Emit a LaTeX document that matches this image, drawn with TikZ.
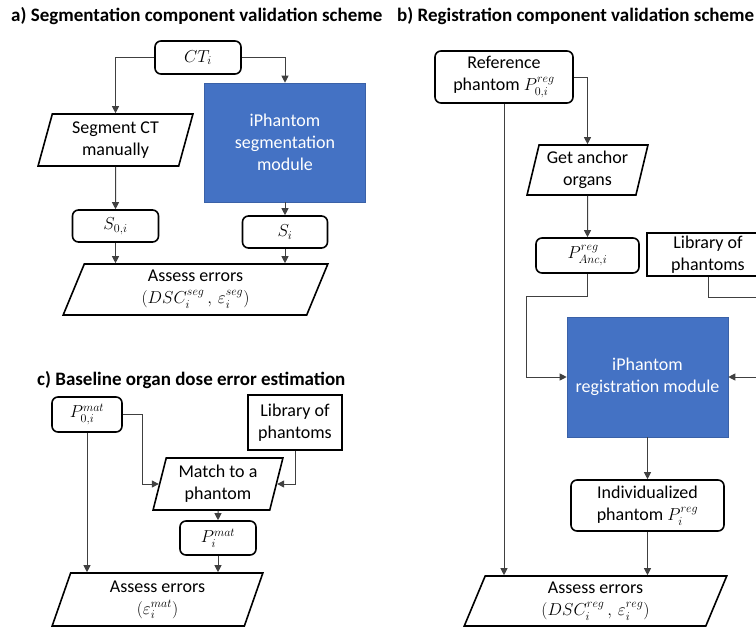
\documentclass[tikz,border=0pt]{standalone}
\usepackage{amsmath}
\usepackage{fontspec}
\setmainfont{Carlito}
\usepackage{tikz}
\usetikzlibrary{shapes.geometric, arrows.meta}
\definecolor{phantomblue}{RGB}{68,114,196}

\begin{document}
\begin{tikzpicture}[
    x=1pt, y=-1pt,
    every node/.style={font=\fontsize{18}{22}\selectfont},
    box/.style={rectangle, draw, line width=1.6pt, rounded corners=6pt, align=center, inner sep=0pt},
    libbox/.style={rectangle, draw, line width=1.6pt, align=center, inner sep=0pt},
    para/.style={trapezium, trapezium left angle=75, trapezium right angle=105, trapezium stretches=true, draw, line width=1.6pt, align=center, inner sep=0pt},
    module/.style={rectangle, fill=phantomblue, draw=phantomblue!85!black, line width=0.6pt, text=white, align=center, inner sep=0pt},
    title/.style={anchor=west, inner sep=0pt, font=\bfseries\fontsize{19}{22}\selectfont},
    arrow/.style={-{Triangle[length=7pt, width=7pt]}, line width=1pt, draw=black!75}
]
\useasboundingbox (0,0) rectangle (756,627);

\node[title] (titlea) at (11,16) {a) Segmentation component validation scheme};
\node[title] (titleb) at (397,16) {b) Registration component validation scheme};
\node[title] (titlec) at (37,380) {c) Baseline organ dose error estimation};

% a) segmentation
\node[box, minimum width=86pt, minimum height=33pt] (ct) at (198,57.5) {$CT_i$};
\node[para, minimum width=155pt, minimum height=52pt] (segct) at (115.5,140) {Segment CT\\manually};
\node[module, minimum width=161pt, minimum height=119pt] (segmod) at (285,142.5) {iPhantom\\segmentation\\module};
\node[box, minimum width=86pt, minimum height=32pt] (s0) at (115.5,226) {$S_{0,i}$};
\node[box, minimum width=85pt, minimum height=32pt] (si) at (285,232) {$S_i$};
\node[para, minimum width=265pt, minimum height=51pt] (assessa) at (195.5,289.5) {Assess errors\\$(DSC_i^{seg}\,,\,\varepsilon_i^{seg})$};

\draw[arrow] (ct.west) -| (segct.north);
\draw[arrow] (ct.east) -| (segmod.north);
\draw[arrow] (segct.south) -- (s0.north);
\draw[arrow] (segmod.south) -- (si.north);
\draw[arrow] (s0.south) -- (s0.south |- assessa.north);
\draw[arrow] (si.south) -- (si.south |- assessa.north);

% b) registration
\node[box, minimum width=138pt, minimum height=52pt] (ref) at (504,77) {Reference\\phantom $P_{0,i}^{reg}$};
\node[para, minimum width=121pt, minimum height=50pt] (anchor) at (587.5,170) {Get anchor\\organs};
\node[box, minimum width=103pt, minimum height=35pt] (anc) at (587.5,255.5) {$P_{Anc,i}^{reg}$};
\node[libbox, minimum width=122pt, minimum height=43pt] (libb) at (708,254.5) {Library of\\phantoms};
\node[module, minimum width=161pt, minimum height=120pt] (reg) at (647.5,377) {iPhantom\\registration module};
\node[box, minimum width=153pt, minimum height=51pt] (indiv) at (647.5,505.5) {Individualized\\phantom $P_i^{reg}$};
\node[para, minimum width=263pt, minimum height=50pt] (assessb) at (595.5,601) {Assess errors\\$(DSC_i^{reg}\,,\,\varepsilon_i^{reg})$};
\coordinate (ancbend) at (526,296);
\coordinate (libbend) at (772,297);

\draw[arrow] (ref.east) -| (anchor.north);
\draw[arrow] (ref.south) -- (ref.south |- assessb.north);
\draw[arrow] (anchor.south) -- (anc.north);
\draw[arrow] (anc.south) |- (ancbend) |- (reg.west);
\draw[arrow] (libb.south) |- (libbend) |- (reg.east);
\draw[arrow] (reg.south) -- (indiv.north);
\draw[arrow] (indiv.south) -- (indiv.south |- assessb.north);

% c) baseline
\node[box, minimum width=70pt, minimum height=35pt] (p0) at (87,414.5) {$P_{0,i}^{mat}$};
\node[libbox, minimum width=94pt, minimum height=55pt] (libc) at (295,422.5) {Library of\\phantoms};
\node[para, minimum width=130pt, minimum height=52pt] (match) at (218,484) {Match to a\\phantom};
\node[box, minimum width=76pt, minimum height=34pt] (pim) at (218,538) {$P_i^{mat}$};
\node[para, minimum width=211pt, minimum height=53pt] (assessc) at (157.5,599.5) {Assess errors\\$(\varepsilon_i^{mat})$};
\coordinate (p0bend) at (142,414.5);

\draw[arrow] (p0.east) -- (p0bend) |- (match.west);
\draw[arrow] (libc.south) |- (match.east);
\draw[arrow] (match.south) -- (pim.north);
\draw[arrow] (pim.south) -- (pim.south |- assessc.north);
\draw[arrow] (p0.south) -- (p0.south |- assessc.north);
\end{tikzpicture}
\end{document}
